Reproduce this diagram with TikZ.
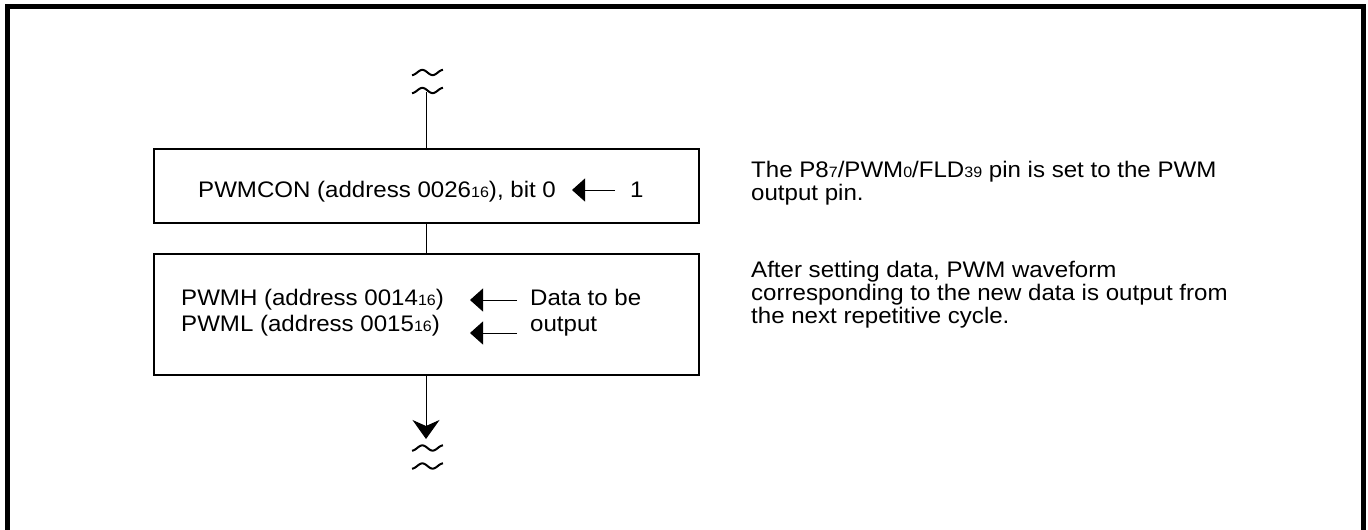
\documentclass[tikz,border=0pt]{standalone}
\usepackage{fontspec}
\setmainfont[FakeStretch=1.07]{Liberation Sans}
\usetikzlibrary{arrows.meta}
\newcommand\subs[1]{\raisebox{-0.5pt}{\fontsize{15}{15}\selectfont #1}}
\newcommand\tildeat[2]{\draw[tildestyle] plot[domain=0:1,samples=40,smooth] ({#1-15.5+31*\x},{#2+2.6*cos(540*\x)});}
\begin{document}
\begin{tikzpicture}[x=1pt,y=-1pt,
  box/.style={draw,line width=2pt,minimum width=545pt,inner sep=0pt},
  txt/.style={inner sep=0pt,anchor=base west,font=\fontsize{22.5}{23}\selectfont},
  conn/.style={line width=1pt},
  tildestyle/.style={line width=2pt},
  headarrow/.style={conn,-{Triangle[length=13pt,width=23pt]}},
  downarrow/.style={conn,-{Stealth[length=19pt,width=27pt,inset=6pt]}}
]
\useasboundingbox (0,0) rectangle (1368,530);
\fill[white] (0,0) rectangle (1368,530);
% outer frame
\draw[line width=5pt,line join=miter] (7.5,545) -- (7.5,6.5) -- (1363.5,6.5) -- (1363.5,545);

% top break
\tildeat{427.5}{72.5}
\tildeat{427.5}{90.5}
\coordinate (topstart) at (426,92);

% boxes
\node[box,minimum height=74pt] (b1) at (426,186) {};
\node[box,minimum height=121pt] (b2) at (426,314.5) {};

% box 1 content
\node[txt] (t1) at (198,197) {PWMCON (address 0026\subs{16}), bit 0};
\node[txt] (one) at (630,197) {1};
\coordinate (a1s) at (615,190);
\coordinate (a1e) at (572,190);
\draw[headarrow] (a1s) -- (a1e);

% box 2 content
\node[txt] (t2) at (181,305) {PWMH (address 0014\subs{16})};
\node[txt] (t3) at (181,331) {PWML (address 0015\subs{16})};
\node[txt] (d1) at (530,305) {Data to be};
\node[txt] (d2) at (530,331) {output};
\coordinate (a2s) at (517,300);
\coordinate (a2e) at (470,300);
\coordinate (a3s) at (517,333);
\coordinate (a3e) at (470,333);
\draw[headarrow] (a2s) -- (a2e);
\draw[headarrow] (a3s) -- (a3e);

% connectors
\draw[conn] (topstart) -- (b1.north);
\draw[conn] (b1.south) -- (b2.north);
\coordinate (tip) at (426,439);
\draw[downarrow] (b2.south) -- (tip);

% bottom break
\tildeat{427.5}{448}
\tildeat{427.5}{466}

% right notes
\node[txt] (n1a) at (751,177) {The P8\subs{7}/PWM\subs{0}/FLD\subs{39} pin is set to the PWM};
\node[txt] (n1b) at (751,200) {output pin.};
\node[txt] (n2a) at (751,277) {After setting data, PWM waveform};
\node[txt] (n2b) at (751,300) {corresponding to the new data is output from};
\node[txt] (n2c) at (751,323) {the next repetitive cycle.};
\end{tikzpicture}
\end{document}
